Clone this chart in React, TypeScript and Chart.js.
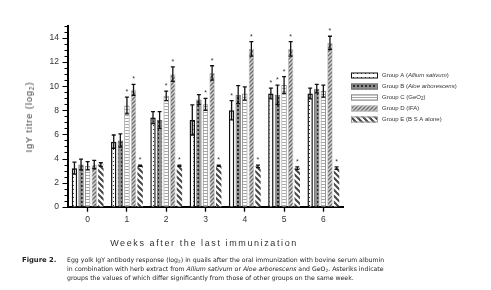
import React, { useEffect, useRef } from 'react';
import { Chart, registerables } from 'chart.js';

Chart.register(...registerables);

// ---- data ----
const weeks = ['0', '1', '2', '3', '4', '5', '6'];
const groupNames = ['Group A', 'Group B', 'Group C', 'Group D', 'Group E'];

const groupA = [3.2, 5.4, 7.4, 7.2, 8.0, 9.4, 9.4];
const groupB = [3.5, 5.5, 7.2, 8.9, 9.3, 9.3, 9.8];
const groupC = [3.4, 8.4, 9.2, 8.5, 9.4, 10.1, 9.6];
const groupD = [3.5, 9.7, 11.0, 11.1, 13.1, 13.1, 13.6];
const groupE = [3.5, 3.4, 3.4, 3.4, 3.35, 3.2, 3.2];

const errA = [0.5, 0.55, 0.5, 1.25, 0.8, 0.45, 0.45];
const errB = [0.45, 0.55, 0.7, 0.4, 0.75, 0.8, 0.35];
const errC = [0.35, 0.7, 0.4, 0.5, 0.55, 0.7, 0.5];
const errD = [0.35, 0.45, 0.6, 0.6, 0.6, 0.6, 0.55];
const errE = [0.15, 0.05, 0.05, 0.05, 0.1, 0.1, 0.1];

const sigA = [0, 0, 0, 0, 1, 1, 0];
const sigB = [0, 0, 0, 0, 0, 1, 0];
const sigC = [0, 1, 1, 1, 0, 1, 0];
const sigD = [0, 1, 1, 1, 1, 1, 1];
const sigE = [0, 1, 1, 1, 1, 1, 1];

const yTickLabels = ['0', '2', '4', '6', '8', '10', '12', '14'];

// legend texts: [text, style('n' normal, 'i' italic, 's' subscript)]
const legendParts: [string, string][][] = [
  [['Group A (', 'n'], ['Allium sativum', 'i'], [')', 'n']],
  [['Group B (', 'n'], ['Aloe arborescens', 'i'], [')', 'n']],
  [['Group C (GeO', 'n'], ['2', 's'], [')', 'n']],
  [['Group D (IFA)', 'n']],
  [['Group E (B S A alone)', 'n']],
];

const values = [groupA, groupB, groupC, groupD, groupE];
const errors = [errA, errB, errC, errD, errE];
const sigs = [sigA, sigB, sigC, sigD, sigE];

function makePattern(kind: string): CanvasPattern | string {
  const c = document.createElement('canvas');
  let w = 4, h = 4;
  if (kind === 'E') { w = 6; h = 6; }
  if (kind === 'C') { w = 4; h = 3; }
  c.width = w; c.height = h;
  const g = c.getContext('2d');
  if (!g) return '#fff';
  if (kind === 'A') {
    g.fillStyle = '#ffffff'; g.fillRect(0, 0, w, h);
    g.fillStyle = '#333333'; g.fillRect(1, 1, 1, 1);
  } else if (kind === 'B') {
    g.fillStyle = '#8e8e8e'; g.fillRect(0, 0, w, h);
    g.fillStyle = '#2b2b2b'; g.fillRect(1, 1, 2, 2);
  } else if (kind === 'C') {
    g.fillStyle = '#ffffff'; g.fillRect(0, 0, w, h);
    g.fillStyle = '#a5a5a5'; g.fillRect(0, 1, w, 1);
  } else if (kind === 'D') {
    g.fillStyle = '#d2d2d2'; g.fillRect(0, 0, w, h);
    g.strokeStyle = '#6a6a6a'; g.lineWidth = 1.3;
    g.beginPath();
    g.moveTo(0, h); g.lineTo(w, 0);
    g.moveTo(-1, 1); g.lineTo(1, -1);
    g.moveTo(w - 1, h + 1); g.lineTo(w + 1, h - 1);
    g.stroke();
  } else {
    g.fillStyle = '#ffffff'; g.fillRect(0, 0, w, h);
    g.strokeStyle = '#454545'; g.lineWidth = 2;
    g.beginPath();
    g.moveTo(0, 0); g.lineTo(w, h);
    g.moveTo(-3, 3); g.lineTo(3, 9);
    g.moveTo(3, -3); g.lineTo(9, 3);
    g.stroke();
  }
  return g.createPattern(c, 'repeat') || '#fff';
}

const borderColors = ['#111111', '#6e6e6e', '#8a8a8a', '#bdbdbd', '#9a9a9a'];
const borderWidths = [1.5, 1, 1, 0.8, 0];

const extrasPlugin = {
  id: 'extras',
  afterDatasetsDraw(chart: any) {
    const ctx = chart.ctx;
    const ys = chart.scales.y;
    ctx.save();
    values.forEach((vals, i) => {
      const meta = chart.getDatasetMeta(i);
      meta.data.forEach((bar: any, j: number) => {
        const v = vals[j];
        const e = errors[i][j];
        const x = bar.x;
        const yt = ys.getPixelForValue(v + e);
        const yb = ys.getPixelForValue(v - e);
        ctx.strokeStyle = '#111';
        ctx.lineWidth = 1.3;
        ctx.beginPath();
        ctx.moveTo(x, yb); ctx.lineTo(x, yt);
        ctx.moveTo(x - 2, yt); ctx.lineTo(x + 2, yt);
        ctx.moveTo(x - 2, yb); ctx.lineTo(x + 2, yb);
        ctx.stroke();
        if (sigs[i][j]) {
          ctx.fillStyle = '#333';
          ctx.font = '7px "Liberation Sans", Arial, sans-serif';
          ctx.textAlign = 'center';
          ctx.textBaseline = 'middle';
          ctx.fillText('*', x, yt - 5);
        }
      });
    });
    ctx.restore();
  },
  afterDraw(chart: any) {
    const ctx = chart.ctx;
    const ys = chart.scales.y;
    const left = chart.chartArea.left;
    ctx.save();
    // y axis ticks (major every 2, minor every 0.5)
    ctx.strokeStyle = '#000';
    ctx.lineWidth = 1.2;
    ctx.beginPath();
    for (let k = 0; k <= 30; k++) {
      const v = k / 2;
      const py = Math.round(ys.getPixelForValue(v)) + 0.5;
      const len = v % 2 === 0 ? 5.5 : 3.5;
      ctx.moveTo(left - len, py);
      ctx.lineTo(left, py);
    }
    ctx.stroke();

    // legend
    const lx = 351, ly0 = 75.5, dy = 11;
    chart.data.datasets.forEach((ds: any, i: number) => {
      const cy = ly0 + dy * i;
      ctx.fillStyle = ds.backgroundColor;
      ctx.fillRect(lx, cy - 3, 27, 6);
      ctx.strokeStyle = i === 0 ? '#111' : borderColors[i];
      ctx.lineWidth = 1;
      ctx.strokeRect(lx + 0.5, cy - 2.5, 26, 5);
      let tx = 382;
      ctx.fillStyle = '#333';
      ctx.textBaseline = 'middle';
      ctx.textAlign = 'left';
      legendParts[i].forEach(([t, st]) => {
        if (st === 'i') ctx.font = 'italic 6px "Liberation Sans", Arial, sans-serif';
        else if (st === 's') ctx.font = '4.5px "Liberation Sans", Arial, sans-serif';
        else ctx.font = '6px "Liberation Sans", Arial, sans-serif';
        ctx.fillText(t, tx, st === 's' ? cy + 1.5 : cy);
        tx += ctx.measureText(t).width;
      });
    });
    ctx.restore();
  },
};

function ChartBox() {
  const ref = useRef<HTMLCanvasElement | null>(null);
  useEffect(() => {
    if (!ref.current) return;
    const kinds = ['A', 'B', 'C', 'D', 'E'];
    const chart = new Chart(ref.current, {
      type: 'bar',
      data: {
        labels: weeks,
        datasets: values.map((vals, i) => ({
          label: groupNames[i],
          data: vals,
          backgroundColor: makePattern(kinds[i]) as any,
          borderColor: borderColors[i],
          borderWidth: borderWidths[i],
          categoryPercentage: 0.84,
          barPercentage: 0.82,
        })),
      },
      options: {
        animation: false,
        responsive: false,
        devicePixelRatio: 1,
        layout: { padding: { top: 26, right: 148, left: 0, bottom: 0 } },
        plugins: { legend: { display: false }, tooltip: { enabled: false }, title: { display: false } },
        scales: {
          x: {
            grid: { display: true, drawOnChartArea: false, offset: false, tickLength: 5, tickWidth: 1.3, tickColor: '#000' },
            border: { display: true, color: '#000', width: 2 },
            ticks: { color: '#333', padding: 3, font: { family: '"Liberation Sans", Arial, sans-serif', size: 8.5 } },
            afterFit: (s: any) => { s.height = 43.3; },
          },
          y: {
            min: 0,
            max: 15,
            grid: { display: false, drawTicks: false },
            border: { display: true, color: '#000', width: 2 },
            ticks: {
              stepSize: 0.5,
              autoSkip: false,
              padding: 9,
              color: '#333',
              font: { family: '"Liberation Sans", Arial, sans-serif', size: 8.5 },
              callback: (v: any) => {
                const s = String(v);
                return yTickLabels.includes(s) ? s : '';
              },
            },
            afterFit: (s: any) => { s.width = 68; },
          },
        },
      },
      plugins: [extrasPlugin],
    });
    return () => chart.destroy();
  }, []);
  return <canvas ref={ref} width={491} height={250} style={{ position: 'absolute', left: 0, top: 0, width: 491, height: 250 }} />;
}

const subStyle: React.CSSProperties = { fontSize: '0.7em', verticalAlign: '-0.3em', lineHeight: 0 };

export default function App() {
  return (
    <div style={{ position: 'absolute', left: 0, top: 0, width: 491, height: 290, background: '#fff', overflow: 'hidden' }}>
      <ChartBox />
      <div
        style={{
          position: 'absolute', left: 29, top: 117, transform: 'translate(-50%, -50%) rotate(-90deg)',
          whiteSpace: 'nowrap', fontFamily: '"Liberation Sans", Arial, sans-serif', fontSize: 9, letterSpacing: 1, color: '#333',
        }}
      >
        IgY titre (log<sub style={subStyle}>2</sub>)
      </div>
      <div
        style={{
          position: 'absolute', left: 204, top: 242.5, transform: 'translate(-50%, -50%)', whiteSpace: 'nowrap',
          fontFamily: '"Liberation Sans", Arial, sans-serif', fontSize: 9, letterSpacing: 1.6, color: '#333',
        }}
      >
        Weeks after the last immunization
      </div>
      <div
        style={{
          position: 'absolute', left: 22, top: 255, whiteSpace: 'nowrap', fontFamily: '"DejaVu Sans", Verdana, sans-serif',
          fontSize: 6.2, lineHeight: '9px', color: '#222', display: 'flex', alignItems: 'baseline',
        }}
      >
        <div style={{ fontWeight: 'bold', width: 45, fontSize: 6.8, lineHeight: '9px' }}>Figure 2.</div>
        <div>
          Egg yolk IgY antibody response (log<sub style={subStyle}>2</sub>) in quails after the oral immunization with bovine serum albumin
          <br />
          in combination with herb extract from <i>Allium sativum</i> or <i>Aloe arborescens</i> and GeO<sub style={subStyle}>2</sub>. Asteriks indicate
          <br />
          groups the values of which differ significantly from those of other groups on the same week.
        </div>
      </div>
    </div>
  );
}
